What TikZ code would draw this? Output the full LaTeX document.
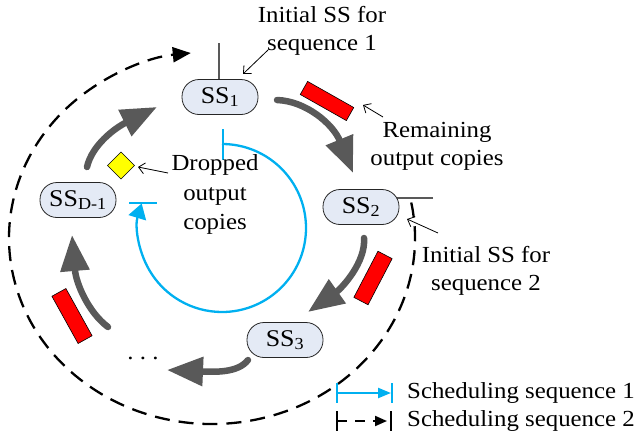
\documentclass[tikz,border=0pt]{standalone}
\usepackage{fontspec}
\setmainfont{Liberation Serif}[FakeStretch=1.08]
\usetikzlibrary{arrows.meta,backgrounds}

\definecolor{ssfill}{RGB}{228,234,245}
\definecolor{flowgray}{RGB}{89,89,89}
\definecolor{seqblue}{RGB}{0,176,240}
\definecolor{copyred}{RGB}{255,0,0}
\definecolor{dropyellow}{RGB}{255,255,0}

\begin{document}
\begin{tikzpicture}[x=1pt,y=-1pt,
  ss/.style={rectangle, rounded corners=17pt, draw=black!85, line width=0.8pt,
    fill=ssfill, minimum width=76pt, minimum height=35pt, inner sep=0pt,
    font=\fontsize{24}{24}\selectfont},
  lbl/.style={anchor=base, inner sep=0pt, font=\fontsize{23}{28}\selectfont},
  flow/.style={draw=flowgray, line width=6.5pt, line cap=round,
    -{Triangle[length=36pt,width=28pt]}},
  note/.style={draw=black, line width=0.8pt, -{Straight Barb[length=6pt,width=11pt]}},
  copybox/.style={draw=black, line width=0.6pt, fill=copyred,
    minimum width=53pt, minimum height=15pt, inner sep=0pt},
  seqone/.style={draw=seqblue, line width=2.3pt},
  seqtwo/.style={draw=black, line width=2.3pt, dash pattern=on 15pt off 9pt},
  flag/.style={draw=flowgray, line width=2pt},
]
\useasboundingbox (0,0) rectangle (637,437);

% ---- scheduling sequence 2: large dashed loop ----
\coordinate (dc) at (212,238);
\draw[seqtwo, -{Triangle[length=18pt,width=15pt]}]
  ([shift={(-11:203 and 186)}]dc) arc[start angle=-11, end angle=264, x radius=203, y radius=186];

% ---- scheduling sequence 1: blue loop with start and end bars ----
\coordinate (bc) at (222,228);
\draw[seqone, -{Triangle[length=15pt,width=18pt]}]
  ([shift={(-90:84)}]bc) arc[start angle=-90, end angle=197, radius=84];
\draw[seqone] (223,129) -- (223,160);
\draw[seqone] (129,203) -- (157,203);

% ---- stations ----
\node[ss] (SS1) at (220,97)  {SS\textsubscript{1}};
\node[ss] (SS2) at (361,207) {SS\textsubscript{2}};
\node[ss] (SS3) at (285,340) {SS\textsubscript{3}};
\node[ss] (SSD) at (78,200)  {SS\textsubscript{D-1}};

% initial-station flags
\coordinate (f1) at (219,43);
\coordinate (f2) at (433,198);
\begin{pgfonlayer}{background}
  \draw[flag] (f1) -- (f1 |- SS1.center);
  \draw[flag] (f2) -- (SS2.center |- f2);
\end{pgfonlayer}

% ---- output flow between stations ----
\coordinate (a1s) at (277,100); \coordinate (a1e) at (353,173);
\coordinate (a2s) at (364,238); \coordinate (a2e) at (308,312);
\coordinate (a3s) at (248,360); \coordinate (a3e) at (167,370);
\coordinate (a4s) at (108,327); \coordinate (a4e) at (72,235);
\coordinate (a5s) at (87,167);  \coordinate (a5e) at (157,107);
\draw[flow] (a1s) .. controls (306,101) and (333,124) .. (a1e);
\draw[flow] (a2s) .. controls (366,262) and (342,288) .. (a2e);
\draw[flow] (a3s) .. controls (238,373) and (215,372) .. (a3e);
\draw[flow] (a4s) .. controls (88,312) and (76,283) .. (a4e);
\draw[flow] (a5s) .. controls (92,145) and (115,128) .. (a5e);

% ---- output copies ----
\node[copybox, rotate=-29.5] (rc1) at (327,101) {};
\node[copybox, rotate=62.4, minimum width=52pt, minimum height=16pt] (rc2) at (373,278) {};
\node[copybox, rotate=-61, minimum width=54pt, minimum height=16pt] (rc3) at (72,316) {};
\node[draw=black, line width=0.6pt, fill=dropyellow, minimum size=19pt,
  inner sep=0pt, rotate=45] (drop) at (121,165.5) {};

\node[lbl] (dots) at (143,359) {.\ .\ .};

% ---- annotations ----
\node[lbl] (ini1a) at (322,22) {Initial SS for};
\node[lbl] (ini1b) at (322,50) {sequence 1};
\node[lbl] (rema)  at (437,137) {Remaining};
\node[lbl] (remb)  at (437,165) {output copies};
\node[lbl] (dropa) at (215,170) {Dropped};
\node[lbl] (dropb) at (215,200) {output};
\node[lbl] (dropc) at (215,229) {copies};
\node[lbl] (ini2a) at (486,262) {Initial SS for};
\node[lbl] (ini2b) at (486,290) {sequence 2};

\coordinate (n1t) at (268,50);  \coordinate (n1h) at (243,74);
\coordinate (n2t) at (383,117); \coordinate (n2h) at (363,105);
\coordinate (n3t) at (168,173); \coordinate (n3h) at (138,167);
\coordinate (n4t) at (438,233); \coordinate (n4h) at (407,219);
\draw[note] (n1t) -- (n1h);
\draw[note] (n2t) -- (n2h);
\draw[note] (n3t) -- (n3h);
\draw[note] (n4t) -- (n4h);

% ---- legend ----
\coordinate (l1a) at (337,393); \coordinate (l1b) at (391,393);
\coordinate (l2a) at (337,421); \coordinate (l2b) at (387,421);
\draw[seqone, -{Triangle[length=13pt,width=10pt]}] (l1a) -- (l1b);
\draw[seqone] (337,383) -- (337,403);
\draw[seqone] (392,383) -- (392,403);
\draw[draw=black, line width=2pt, dash pattern=on 10pt off 8pt,
  -{Triangle[length=12pt,width=10pt]}] (l2a) -- (l2b);
\draw[black, line width=2pt] (337,411) -- (337,431);
\draw[black, line width=2pt] (391,411) -- (391,431);
\node[lbl, anchor=base west] (leg1) at (407,398) {Scheduling sequence 1};
\node[lbl, anchor=base west] (leg2) at (407,426) {Scheduling sequence 2};
\end{tikzpicture}
\end{document}
